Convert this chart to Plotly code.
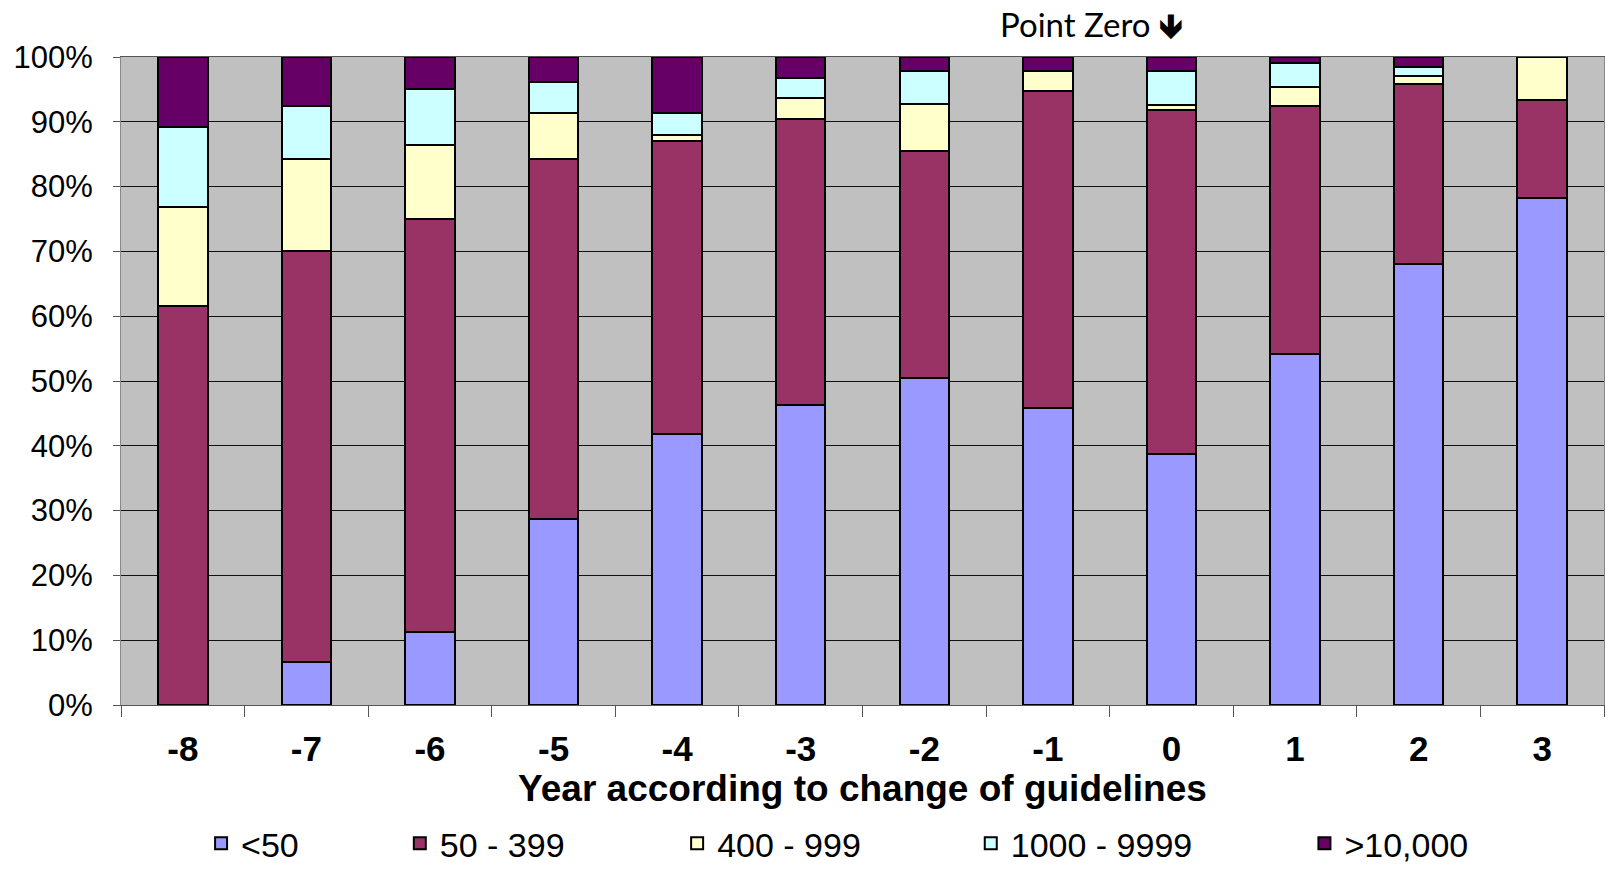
import plotly.graph_objects as go

years = ["-8", "-7", "-6", "-5", "-4", "-3", "-2", "-1", "0", "1", "2", "3"]

# share of units per size class (%), stacked bottom to top
lt50 = [0.0, 6.7, 11.3, 28.7, 41.8, 46.3, 50.5, 45.8, 38.7, 54.2, 68.0, 78.2]
s50_399 = [61.5, 63.3, 63.7, 55.6, 45.3, 44.2, 35.0, 49.0, 53.1, 38.2, 27.8, 15.2]
s400_999 = [15.4, 14.2, 11.4, 7.1, 0.8, 3.2, 7.2, 3.0, 0.8, 2.9, 1.3, 6.6]
s1000_9999 = [12.3, 8.3, 8.6, 4.7, 3.5, 3.1, 5.2, 0.0, 5.3, 3.7, 1.4, 0.0]
gt10000 = [10.8, 7.5, 5.0, 3.9, 8.6, 3.2, 2.1, 2.2, 2.1, 1.0, 1.5, 0.0]

series_names = ["<50", "50 - 399", "400 - 999", "1000 - 9999", ">10,000"]
series_values = [lt50, s50_399, s400_999, s1000_9999, gt10000]
series_colors = ["#9999FF", "#993366", "#FFFFCC", "#CCFFFF", "#660066"]
legend_x = [0.054, 0.188, 0.375, 0.573, 0.798]

FONT = "Liberation Sans, Arial, sans-serif"

fig = go.Figure()
for i, (name, vals, col) in enumerate(zip(series_names, series_values, series_colors)):
    lg = "legend" if i == 0 else f"legend{i + 1}"
    fig.add_trace(go.Bar(
        x=years, y=vals, name=name,
        marker=dict(color=col, line=dict(color="black", width=2)),
        legend=lg,
    ))

layout_legends = {}
for i, lx in enumerate(legend_x):
    key = "legend" if i == 0 else f"legend{i + 1}"
    layout_legends[key] = dict(
        x=lx, xref="paper", xanchor="left",
        y=-0.214, yref="paper", yanchor="middle",
        orientation="h", bgcolor="rgba(0,0,0,0)",
        font=dict(family=FONT, size=34, color="black"),
        itemwidth=30,
    )

fig.update_layout(
    barmode="stack",
    bargap=0.6,
    width=1610, height=870,
    margin=dict(l=121, r=6, t=57, b=165, autoexpand=False),
    paper_bgcolor="white",
    plot_bgcolor="#C0C0C0",
    showlegend=True,
    **layout_legends,
)

fig.update_xaxes(
    type="category",
    range=[-0.5, len(years) - 0.5],
    tickson="boundaries",
    ticks="outside", ticklen=11, tickcolor="#555555", tickwidth=1,
    showline=True, linecolor="#555555", linewidth=1, mirror=True,
    showgrid=False,
    tickfont=dict(family=FONT, size=35, color="black", weight="bold"),
    ticklabelstandoff=13,
    title=dict(text="<b>Year according to change of guidelines</b>",
               font=dict(family=FONT, size=37, color="black"), standoff=6),
)

fig.update_yaxes(
    range=[0, 100], dtick=10, ticksuffix="%",
    ticks="outside", ticklen=7, tickcolor="#555555",
    showline=True, linecolor="#888888", linewidth=1, mirror=True,
    showgrid=True, gridcolor="#111111", gridwidth=1,
    tickfont=dict(family=FONT, size=31, color="black"),
    ticklabelstandoff=14,
    zeroline=False,
)

fig.add_annotation(
    x=years.index("0"), xref="x", y=1, yref="paper",
    text="Point Zero <b>🡻</b>", showarrow=False,
    xanchor="right", yanchor="middle", xshift=14, yshift=33,
    font=dict(family="Lato, Open Sans, sans-serif", size=33, color="black"),
)

fig.write_html("out.html")
